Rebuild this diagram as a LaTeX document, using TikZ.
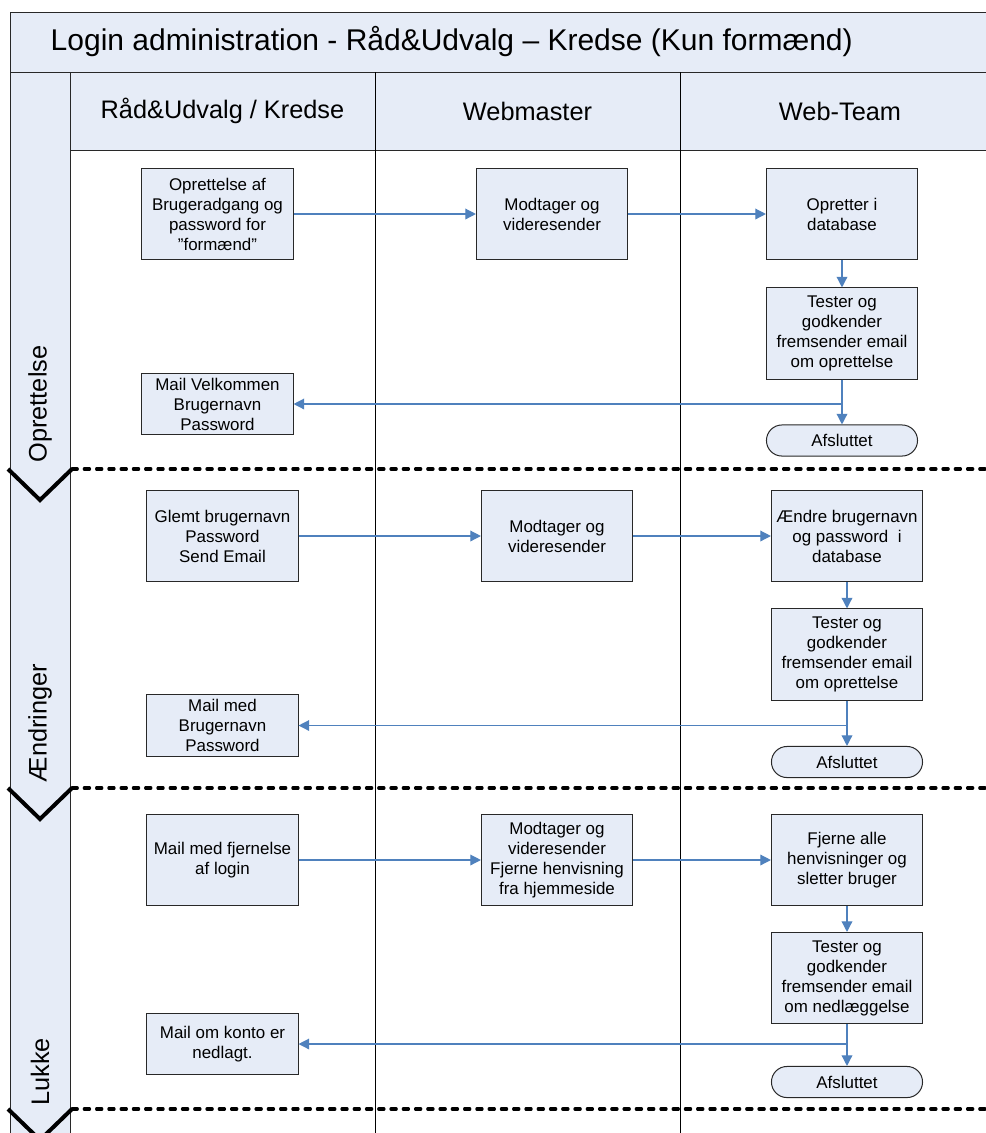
\documentclass[tikz,border=0pt]{standalone}
\usepackage{fontspec}
\setmainfont{Liberation Sans}
\usetikzlibrary{arrows.meta,positioning,calc}
\definecolor{lanefill}{RGB}{230,236,247}
\definecolor{flowblue}{RGB}{79,129,189}
\definecolor{boxline}{RGB}{40,40,40}
\tikzset{x=0.75pt, y=-0.75pt, % one unit is one pixel of the page
        task/.style={ % process boxes
            draw=boxline,
            fill=lanefill,
            line width=0.75pt,
            align=center,
            inner sep=0pt,
            minimum width=113.3pt,
            minimum height=68.3pt,
            font=\fontsize{12.7}{15}\selectfont},
        mailbox/.style={task, minimum height=45.8pt}, % the shorter mail boxes
        endbox/.style={task, minimum height=23.3pt, rounded corners=11.6pt},
        headtext/.style={font=\fontsize{19}{22}\selectfont},
        frame/.style={draw=boxline, line width=0.7pt},
        sepline/.style={line width=2.3pt, line cap=round, dash pattern=on 4pt off 5.2pt},
        chevron/.style={line width=3pt},
        every edge/.style={ % the flow arrows
            draw=flowblue,
            line width=1pt,
            -{Triangle[length=8pt,width=8pt]}}
        }

\begin{document}
\begin{tikzpicture}
    \useasboundingbox (0,0) rectangle (986,1133);
    \clip (0,0) rectangle (986,1133);

    % frame, header and lane strip
    \draw[frame, fill=lanefill] (10,12) rectangle (1000,72);
    \draw[frame, fill=lanefill] (70,72) rectangle (1000,150);
    \draw[frame, fill=lanefill] (10,72) rectangle (70,1140);
    \draw[frame, draw=black] (375,72) -- (375,1140);
    \draw[frame, draw=black] (680,72) -- (680,1140);

    \node[anchor=west, font=\fontsize{22.5}{27}\selectfont] (title) at (46,42)
        {Login administration - Råd\&Udvalg – Kredse (Kun formænd)};
    \node[headtext] (hdA) at (222.5,111) {Råd\&Udvalg / Kredse};
    \node[headtext] (hdB) at (527.5,111) {Webmaster};
    \node[headtext] (hdC) at (840,111) {Web-Team};

    % phase borders
    \foreach \y in {469,788,1109} {
        \draw[sepline] (72,\y) -- (1000,\y);
        \draw[chevron] (8,\y) -- (40,\y+31) -- (72,\y);
    }

    \node[headtext, rotate=90] (lane1) at (40,404) {Oprettelse};
    \node[headtext, rotate=90] (lane2) at (40,723) {Ændringer};
    \node[headtext, rotate=90] (lane3) at (40,1072) {Lukke};

    % Oprettelse
    \node[task]    (req1)  at (217.5,214) {Oprettelse af\\Brugeradgang og\\password for\\”formænd”};
    \node[task]    (fwd1)  at (552,214)   {Modtager og\\videresender};
    \node[task]    (db1)   at (842,214)   {Opretter i\\database};
    \node[task]    (test1) at (842,333.5) {Tester og\\godkender\\fremsender email\\om oprettelse};
    \node[mailbox] (mail1) at (217.5,404) {Mail Velkommen\\Brugernavn\\Password};
    \node[endbox]  (end1)  at (842,440.5) {Afsluttet};
    \coordinate (br1) at (test1.south |- mail1.east);

    % Ændringer
    \node[task]    (req2)  at (222.5,536) {Glemt brugernavn\\Password\\Send Email};
    \node[task]    (fwd2)  at (557,536)   {Modtager og\\videresender};
    \node[task]    (db2)   at (847,536)   {Ændre brugernavn\\og password\ \ i\\database};
    \node[task]    (test2) at (847,654.5) {Tester og\\godkender\\fremsender email\\om oprettelse};
    \node[mailbox] (mail2) at (222.5,725.5) {Mail med\\Brugernavn\\Password};
    \node[endbox]  (end2)  at (847,762)   {Afsluttet};
    \coordinate (br2) at (test2.south |- mail2.east);

    % Lukke
    \node[task]    (req3)  at (222.5,860) {Mail med fjernelse\\af login};
    \node[task]    (fwd3)  at (557,860)   {Modtager og\\videresender\\Fjerne henvisning\\fra hjemmeside};
    \node[task]    (db3)   at (847,860)   {Fjerne alle\\henvisninger og\\sletter bruger};
    \node[task]    (test3) at (847,978)   {Tester og\\godkender\\fremsender email\\om nedlæggelse};
    \node[mailbox] (mail3) at (222.5,1044) {Mail om konto er\\nedlagt.};
    \node[endbox]  (end3)  at (847,1082)  {Afsluttet};
    \coordinate (br3) at (test3.south |- mail3.east);

    \draw
        (req1) edge (fwd1)
        (fwd1) edge (db1)
        (db1) edge (test1)
        (test1) edge (end1)
        (br1) edge (mail1)
        (req2) edge (fwd2)
        (fwd2) edge (db2)
        (db2) edge (test2)
        (test2) edge (end2)
        (br2) edge (mail2)
        (req3) edge (fwd3)
        (fwd3) edge (db3)
        (db3) edge (test3)
        (test3) edge (end3)
        (br3) edge (mail3);
\end{tikzpicture}
\end{document}
